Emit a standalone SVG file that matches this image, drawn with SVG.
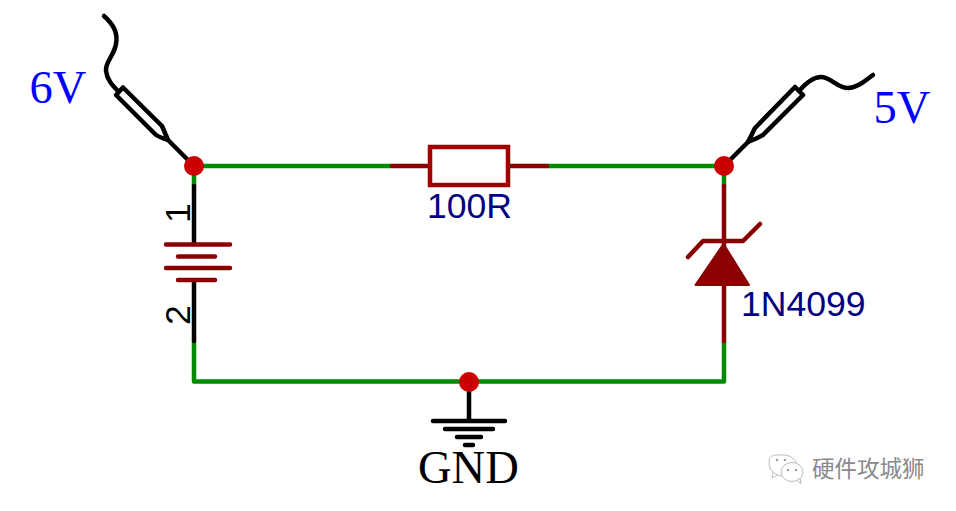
<svg xmlns="http://www.w3.org/2000/svg" width="956" height="511" viewBox="0 0 956 511">
<style>
.w{fill:none;stroke-linecap:round;stroke-linejoin:round}
.g{stroke:#008a00;stroke-width:4.500}
.r{stroke:#8b0000;stroke-width:4.500}
.k{stroke:#000;stroke-width:4.500}
.dot{fill:#cc0000}
.sans{font-family:"Liberation Sans",Arial,sans-serif;font-size:35.600px}
.serif{font-family:"Liberation Serif","Times New Roman",serif;font-size:46.500px}
.navy{fill:#000080}
.blue{fill:#0000ff}
</style>
<rect width="956" height="511" fill="#fff"/>
<g id="connectors">
<path class="w g" d="M194 166H392M547 166H724M194 166V186M724 166V186M194 341V381.500H724V341"/>
<path class="w k" d="M194 186V244M194 281V341"/>
<path class="w r" d="M724 186V341"/>
</g>
<g id="probe-6v">
<path class="w k" d="M104 16C114 25 118 33 116 44C114 56 105 62 106 71C107 80 113 86 118 91"/>
<path class="w k" d="M116 95L123 87.500L162 126L168 140C163 138 158 137 155 134Z"/>
<path class="w k" d="M168 140L190 162"/>
<text class="serif blue" x="29.500" y="103">6V</text>
</g>
<g id="probe-5v">
<path class="w k" d="M799 91C806 83 813 77 821 77C831 77 837 88 848 88C857 88 865 81 873 75"/>
<path class="w k" d="M795 87L803 95L763 135C758 138 753 140 748 142L755 128Z"/>
<path class="w k" d="M748 142L728 162"/>
<text class="serif blue" x="873.500" y="123">5V</text>
</g>
<g id="battery">
<path class="w r" d="M166 244.500H230M178 256.500H215M166 268H230M178 280H215"/>
<text class="sans" transform="translate(190 213) rotate(-90)" text-anchor="middle">1</text>
<text class="sans" transform="translate(190 315) rotate(-90)" text-anchor="middle">2</text>
</g>
<g id="resistor">
<path class="w r" d="M392 166H429M508 166H547"/>
<rect x="430" y="147" width="78" height="38" fill="#fff" stroke="#a00000" stroke-width="4.500"/>
<text class="sans navy" x="427" y="218">100R</text>
</g>
<g id="zener">
<path class="w r" d="M688 257L703 241H743L760 224"/>
<path fill="#8b0000" stroke="#8b0000" stroke-width="2" stroke-linejoin="round" d="M723.500 244L695.500 285H749Z"/>
<text class="sans navy" x="741" y="316">1N4099</text>
</g>
<g id="gnd">
<path class="w k" d="M469 382V421M433 421H505M445 429H493M457 437H481M465 445H473"/>
<text class="serif" x="418" y="483">GND</text>
</g>
<g id="junctions">
<circle class="dot" cx="194" cy="166" r="10"/>
<circle class="dot" cx="724" cy="166" r="10"/>
<circle class="dot" cx="469" cy="382" r="10"/>
</g>
<g id="watermark">
<path fill="none" stroke="#bbb" stroke-width="1" d="M783 476C775 476 769 470 769 462C769 454 776 455 783 455C791 455 796 460 797 465M773 472L772 478L778 475"/>
<ellipse cx="792" cy="472" rx="11" ry="9.500" fill="#fff" stroke="#bbb"/>
<path fill="none" stroke="#bbb" d="M797 480L801 484L800 478"/>
<circle cx="777" cy="460" r="1.200" fill="#999"/><circle cx="785" cy="460" r="1.200" fill="#999"/>
<circle cx="788" cy="470" r="1.200" fill="#999"/><circle cx="796" cy="470" r="1.200" fill="#999"/>
<text x="812" y="477" font-size="22.500" fill="#8a8a8a" font-family="'Noto Sans CJK SC',sans-serif">硬件攻城狮</text>
</g>
</svg>
